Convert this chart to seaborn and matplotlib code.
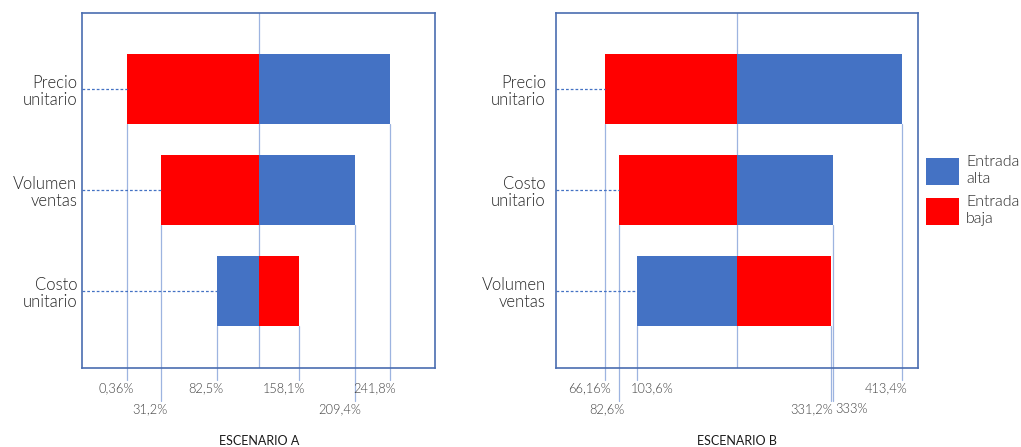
import matplotlib
matplotlib.use("Agg")
import matplotlib.pyplot as plt
import pandas as pd
import seaborn as sns

# ---- data -------------------------------------------------------------
categories_a = ["Precio\nunitario", "Volumen\nventas", "Costo\nunitario"]
alta_a = [241.8, 209.4, 82.5]      # % result with the high input
baja_a = [0.36, 31.2, 158.1]       # % result with the low input
base_a = 121.1                     # base-case result
labels_a_alta = ["241,8%", "209,4%", "82,5%"]
labels_a_baja = ["0,36%", "31,2%", "158,1%"]

categories_b = ["Precio\nunitario", "Costo\nunitario", "Volumen\nventas"]
alta_b = [413.4, 333.0, 103.6]
baja_b = [66.16, 82.6, 331.2]
base_b = 221.2
labels_b_alta = ["413,4%", "333%", "103,6%"]
labels_b_baja = ["66,16%", "82,6%", "331,2%"]

series_names = ["Entrada\nalta", "Entrada\nbaja"]
titles = ["ESCENARIO A", "ESCENARIO B"]

BLUE = "#4472C4"
RED = "#FF0000"
GUIDE = "#9DB4E0"
FRAME = "#4A6DB0"
TEXT_W = 300

sns.set_style("white")
plt.rcParams["font.family"] = ["Lato", "DejaVu Sans"]

fig = plt.figure(figsize=(10.21, 4.47), dpi=100)
ax_a = fig.add_axes([81.5 / 1021, 1 - 368 / 447, 353.5 / 1021, 355.3 / 447])
ax_b = fig.add_axes([556.3 / 1021, 1 - 368 / 447, 362 / 1021, 355.3 / 447])

YLIM = (2.76, -0.755)
BAR_H = 0.69


def y_at(frac):
    """Data y for an axes-fraction height (below the axes when negative)."""
    return YLIM[0] + (YLIM[1] - YLIM[0]) * frac


def tornado(ax, cats, alta, baja, base, lab_alta, lab_baja, xlim_abs,
            title, label_style, legend, pad):
    df = pd.DataFrame({
        "cat": cats * 2,
        "serie": [series_names[0]] * len(cats) + [series_names[1]] * len(cats),
        "value": list(alta) + list(baja),
    })
    df["delta"] = df["value"] - base
    sns.barplot(data=df, y="cat", x="delta", hue="serie", order=cats,
                hue_order=series_names, dodge=False, errorbar=None,
                palette={series_names[0]: BLUE, series_names[1]: RED},
                saturation=1, width=BAR_H, linewidth=0, legend=legend, ax=ax)
    x0, x1 = xlim_abs[0] - base, xlim_abs[1] - base
    ax.set_xlim(x0, x1)
    ax.set_ylim(*YLIM)

    # centre line at the base case
    ax.axvline(0, color=GUIDE, lw=0.9, zorder=0.5)

    for i in range(len(cats)):
        left = min(alta[i], baja[i]) - base
        # dotted leader from the category label to the bar
        ax.plot([x0, left], [i, i], color=BLUE, lw=0.9,
                ls=(0, (2.2, 1.6)), zorder=1)

    # drop lines and value labels under the chart
    for i in range(len(cats)):
        for val, txt in ((alta[i], lab_alta[i]), (baja[i], lab_baja[i])):
            row, ha, dx = label_style[txt]
            y_text = -0.056 if row == 0 else -0.115
            y_end = -0.034 if row == 0 else -0.092
            xv = val - base
            ax.plot([xv, xv], [i + BAR_H / 2, y_at(y_end)], color=GUIDE,
                    lw=0.9, clip_on=False, zorder=0.5)
            ax.annotate(txt, xy=(xv, y_at(y_text)), xytext=(dx, 0),
                        textcoords="offset points", ha=ha, va="center",
                        fontsize=9.3, color="#404040", fontweight=TEXT_W,
                        annotation_clip=False)

    ax.text(0, y_at(-0.205), title, ha="center", va="center",
            fontsize=9, color="#1a1a1a", transform=ax.transData)

    ax.set_xlabel("")
    ax.set_ylabel("")
    ax.set_xticks([])
    ax.tick_params(axis="y", length=0, pad=pad, labelsize=12,
                   labelcolor="#262626")
    for lab in ax.get_yticklabels():
        lab.set_linespacing(1.08)
        lab.set_fontweight(TEXT_W)
    for s in ax.spines.values():
        s.set_visible(True)
        s.set_color(FRAME)
        s.set_linewidth(1.2)


# (row, horizontal alignment, x offset in points) for each value label
style_a = {
    "0,36%": (0, "right", 4.5), "82,5%": (0, "right", 4.5),
    "158,1%": (0, "right", 4.5), "241,8%": (0, "right", 4.5),
    "31,2%": (1, "right", 4.5), "209,4%": (1, "right", 4.5),
}
style_b = {
    "66,16%": (0, "right", 4.5), "103,6%": (0, "left", -4.5),
    "413,4%": (0, "right", 4.5), "82,6%": (1, "right", 4.5),
    "331,2%": (1, "right", 1.5), "333%": (1, "left", 1.5),
}

tornado(ax_a, categories_a, alta_a, baja_a, base_a, labels_a_alta,
        labels_a_baja, (-41.9, 283.1), titles[0], style_a, False, 3)
tornado(ax_b, categories_b, alta_b, baja_b, base_b, labels_b_alta,
        labels_b_baja, (9.6, 432.8), titles[1], style_b, True, 7.5)

sns.move_legend(ax_b, loc="upper left",
                bbox_to_anchor=(926 / 1021, 1 - 155 / 447),
                bbox_transform=fig.transFigure, title=None, frameon=False,
                fontsize=11.5, handlelength=2.05, handleheight=2.2,
                handletextpad=0.45, labelspacing=0.55, borderpad=0,
                borderaxespad=0)
for t in ax_b.get_legend().get_texts():
    t.set_color("#262626")
    t.set_linespacing(1.3)
    t.set_fontweight(TEXT_W)

fig.savefig("out.png", dpi=100)
